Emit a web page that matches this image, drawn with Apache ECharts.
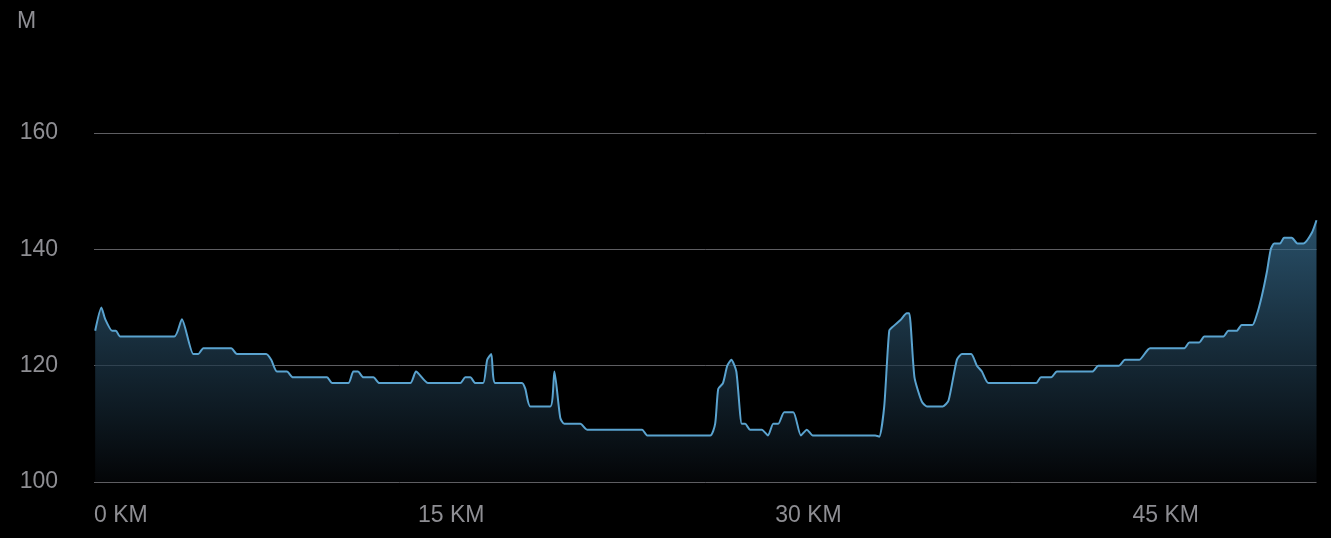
<!DOCTYPE html>
<html>
<head>
<meta charset="utf-8">
<script src="https://cdn.jsdelivr.net/npm/echarts@6/dist/echarts.min.js"></script>
<style>
html,body{margin:0;padding:0;background:#000;}
#chart{width:1331px;height:538px;}
</style>
</head>
<body>
<div id="chart"></div>
<script>
// Distance along route (km)
const distanceKm = [
  0.05, 0.31, 0.47, 0.76, 0.92, 1.10, 3.37, 3.69, 4.17, 4.38, 4.59, 5.76, 6.00, 7.23, 7.44, 7.68,
  8.10, 8.35, 9.78, 10.00, 10.68, 10.89, 11.08, 11.31, 11.73, 11.98, 13.28, 13.52, 14.03, 15.38,
  15.59, 15.80, 16.01, 16.34, 16.51, 16.68, 16.85, 17.97, 18.11, 18.32, 19.16, 19.33, 19.58, 19.75,
  20.42, 20.70, 23.01, 23.23, 25.87, 26.08, 26.21, 26.41, 26.59, 26.76, 26.97, 27.20, 27.34, 27.55,
  28.04, 28.30, 28.52, 28.73, 28.98, 29.36, 29.68, 29.93, 30.18, 32.80, 32.97, 33.18, 33.39, 33.57,
  33.85, 34.13, 34.23, 34.45, 34.76, 34.97, 35.64, 35.88, 36.23, 36.44, 36.83, 37.07, 37.28, 37.56,
  39.56, 39.76, 40.19, 40.43, 41.92, 42.17, 43.04, 43.29, 43.88, 44.34, 45.78, 45.99, 46.41, 46.62,
  47.42, 47.63, 47.98, 48.19, 48.64, 48.82, 49.03, 49.25, 49.41, 49.55, 49.80, 49.97, 50.29, 50.53,
  50.78, 51.13, 51.33
];
// Elevation (m)
const elevationM = [
  126, 130, 128, 126, 126, 125, 125, 128, 122, 122, 123, 123, 122, 122, 121, 119,
  119, 118, 118, 117, 117, 119, 119, 118, 118, 117, 117, 119, 117, 117,
  118, 118, 117, 117, 121, 122, 117, 117, 116, 113, 113, 119, 111, 110,
  110, 109, 109, 108, 108, 110, 116, 117, 120, 121, 119, 110, 110, 109,
  109, 108, 110, 110, 112, 112, 108, 109, 108, 108, 107.8, 113, 126, 126.8,
  127.8, 129, 129, 118, 113.8, 113, 113, 114, 121, 122, 122, 120, 119, 117,
  117, 118, 118, 119, 119, 120, 120, 121, 121, 123, 123, 124, 124, 125,
  125, 126, 126, 127, 127, 128.7, 131.9, 136.2, 140, 141, 141, 142, 142, 141,
  141, 142.8, 145
];
const xTickInterval = 15;
const yTicks = [100, 120, 140, 160];

const points = distanceKm.map((d, i) => [d, elevationM[i]]);

const labelColor = '#8e8e93';
const chart = echarts.init(document.getElementById('chart'));
chart.setOption({
  backgroundColor: '#000',
  animation: false,
  title: {
    text: 'M', left: 12, top: 5,
    textStyle: { color: labelColor, fontSize: 23, fontWeight: 'normal', fontFamily: 'Liberation Sans, Arial, sans-serif' }
  },
  grid: { left: 94, right: 14.5, top: 133, bottom: 56 },
  xAxis: {
    type: 'value',
    min: 0,
    max: 51.33,
    interval: xTickInterval,
    axisLine: { show: false },
    axisTick: { show: false },
    splitLine: { show: false },
    axisLabel: {
      color: labelColor,
      fontSize: 23,
      fontFamily: 'Liberation Sans, Arial, sans-serif',
      margin: 22,
      formatter: '{value} KM',
      alignMinLabel: 'left',
      showMaxLabel: false
    }
  },
  yAxis: {
    type: 'value',
    min: yTicks[0],
    max: yTicks[yTicks.length - 1],
    interval: 20,
    axisLine: { show: false },
    axisTick: { show: false },
    splitLine: { show: true, lineStyle: { color: '#5e5e62', width: 1 } },
    axisLabel: {
      color: labelColor,
      fontSize: 23,
      fontFamily: 'Liberation Sans, Arial, sans-serif',
      margin: 36
    }
  },
  series: [{
    type: 'line',
    data: points,
    showSymbol: false,
    smooth: 0.2,
    lineStyle: { color: '#5aa3cf', width: 2 },
    areaStyle: {
      color: new echarts.graphic.LinearGradient(0, 0, 0, 1, [
        { offset: 0, color: 'rgb(58,114,150)' },
        { offset: 1, color: 'rgb(5,7,10)' }
      ])
    }
  }]
});
</script>
</body>
</html>
